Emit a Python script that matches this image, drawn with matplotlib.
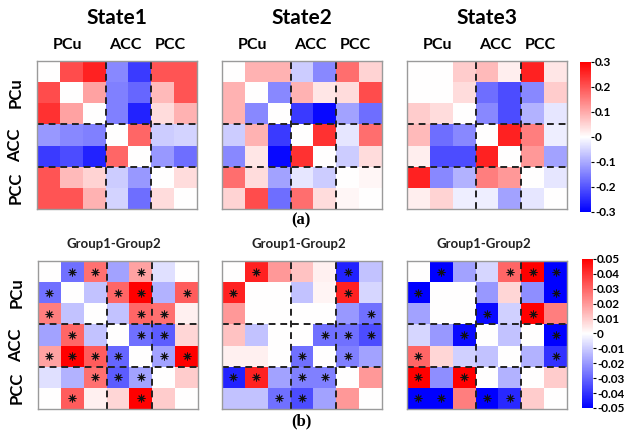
import numpy as np
import matplotlib
matplotlib.use("Agg")
import matplotlib.pyplot as plt

regions = ["PCu", "ACC", "PCC"]
region_sizes = [3, 2, 2]
state_titles = ["State1", "State2", "State3"]
diff_title = "Group1-Group2"

# top row: state connectivity (range -0.3..0.3)
state1 = np.array([
    [0.00, 0.21, 0.26, -0.14, -0.23, 0.20, 0.20],
    [0.21, 0.00, 0.11, -0.15, -0.18, 0.08, 0.20],
    [0.24, 0.11, 0.00, -0.15, -0.26, 0.04, 0.09],
    [-0.12, -0.14, -0.15, 0.00, 0.18, -0.06, -0.05],
    [-0.23, -0.21, -0.26, 0.18, 0.00, -0.12, -0.17],
    [0.20, 0.08, 0.05, -0.06, -0.12, 0.00, 0.04],
    [0.20, 0.20, 0.09, -0.05, -0.17, 0.04, 0.00],
])
state2 = np.array([
    [0.00, 0.09, 0.09, -0.06, -0.14, 0.17, 0.05],
    [0.09, 0.00, -0.14, 0.09, 0.03, 0.04, 0.21],
    [0.09, -0.14, 0.00, -0.23, -0.29, -0.11, -0.17],
    [-0.06, 0.09, -0.23, 0.00, 0.24, -0.03, 0.17],
    [-0.14, 0.03, -0.29, 0.24, 0.00, -0.06, 0.04],
    [0.17, 0.04, -0.11, -0.03, -0.06, 0.00, 0.01],
    [0.05, 0.21, -0.17, 0.17, 0.04, 0.01, 0.00],
])
state3 = np.array([
    [0.00, 0.00, 0.06, 0.08, 0.02, 0.26, 0.03],
    [0.00, 0.00, 0.04, -0.17, -0.21, -0.14, 0.06],
    [0.06, 0.04, 0.00, -0.14, -0.21, -0.09, -0.03],
    [0.08, -0.17, -0.14, 0.00, 0.26, 0.15, -0.02],
    [0.02, -0.21, -0.21, 0.26, 0.00, 0.12, -0.11],
    [0.26, -0.14, -0.09, 0.15, 0.12, 0.00, -0.03],
    [0.02, 0.05, -0.02, -0.02, -0.11, -0.03, 0.00],
])

# bottom row: group differences (range -0.05..0.05)
diff1 = np.array([
    [0.000, -0.028, 0.028, -0.018, 0.018, -0.006, 0.000],
    [-0.028, 0.000, -0.012, 0.030, 0.050, -0.015, 0.032],
    [0.025, -0.012, 0.000, -0.012, 0.030, 0.028, 0.003],
    [-0.018, 0.030, -0.012, 0.000, -0.028, -0.032, 0.008],
    [0.018, 0.050, 0.032, -0.030, 0.000, -0.018, 0.050],
    [-0.006, -0.015, 0.028, -0.032, -0.018, 0.000, 0.010],
    [0.000, 0.032, 0.003, 0.008, 0.050, 0.010, 0.000],
])
diff2 = np.array([
    [0.000, 0.043, 0.020, 0.012, 0.003, -0.043, -0.012],
    [0.043, 0.000, 0.000, -0.012, 0.002, 0.043, -0.008],
    [0.020, 0.000, 0.000, 0.000, 0.000, -0.020, -0.028],
    [0.012, -0.012, 0.000, 0.000, -0.028, -0.028, -0.035],
    [0.003, 0.003, 0.000, -0.028, 0.000, -0.025, -0.018],
    [-0.043, 0.043, -0.018, -0.025, -0.025, 0.000, 0.020],
    [-0.012, -0.012, -0.028, -0.035, -0.018, 0.020, 0.000],
])
diff3 = np.array([
    [0.000, -0.050, -0.018, -0.008, 0.030, 0.050, -0.050],
    [-0.050, 0.000, 0.000, -0.020, 0.008, -0.022, -0.050],
    [-0.018, 0.000, 0.000, -0.048, -0.009, 0.050, 0.025],
    [-0.008, -0.020, -0.048, 0.000, -0.012, 0.000, -0.050],
    [0.030, 0.008, -0.009, -0.012, 0.000, -0.015, -0.040],
    [0.050, -0.022, 0.050, 0.000, -0.015, 0.000, 0.010],
    [-0.050, -0.050, 0.025, -0.050, -0.042, 0.010, 0.000],
])

# significance stars (row, col)
stars1 = [(0, 1), (0, 2), (0, 4), (1, 0), (1, 3), (1, 4), (1, 6), (2, 0), (2, 4), (2, 5),
          (3, 1), (3, 4), (3, 5), (4, 0), (4, 1), (4, 2), (4, 3), (4, 5), (4, 6),
          (5, 2), (5, 3), (5, 4), (6, 1), (6, 4)]
stars2 = [(0, 1), (0, 5), (1, 0), (1, 5), (2, 6), (3, 4), (3, 5), (3, 6), (4, 3), (4, 5),
          (5, 0), (5, 1), (5, 3), (5, 4), (6, 2), (6, 3)]
stars3 = [(0, 1), (0, 4), (0, 5), (0, 6), (1, 0), (1, 6), (2, 3), (2, 5), (3, 2), (3, 6),
          (4, 0), (4, 6), (5, 0), (5, 2), (6, 0), (6, 1), (6, 3), (6, 4)]

top_ticks = [0.3, 0.2, 0.1, 0, -0.1, -0.2, -0.3]
top_ticklabels = ["0.3", "0.2", "0.1", "0", "-0.1", "-0.2", "-0.3"]
bot_ticks = [0.05, 0.04, 0.03, 0.02, 0.01, 0, -0.01, -0.02, -0.03, -0.04, -0.05]
bot_ticklabels = ["0.05", "0.04", "0.03", "0.02", "0.01", "0",
                  "-0.01", "-0.02", "-0.03", "-0.04", "-0.05"]

title_font = "Lato"
fig = plt.figure(figsize=(6.24, 4.30), dpi=100)

bounds = np.cumsum(region_sizes)[:-1]
centers = np.cumsum(region_sizes) - np.array(region_sizes) / 2.0


def draw(rect, mat, vmax, stars=None, ylabels=False, collabels=False):
    ax = fig.add_axes(rect)
    im = ax.imshow(mat, cmap="bwr", vmin=-vmax, vmax=vmax,
                   extent=(0, 7, 7, 0), interpolation="nearest", aspect="auto")
    for b in bounds:
        ax.axvline(b, color="#222222", lw=1.4, ls=(0, (3.5, 2.5)))
        ax.axhline(b, color="#222222", lw=1.4, ls=(0, (3.5, 2.5)))
    if stars:
        r = np.array([s[0] for s in stars]) + 0.5
        c = np.array([s[1] for s in stars]) + 0.5
        ax.scatter(c, r, marker=(8, 2, 0), s=26, color="#111111", lw=0.7, zorder=5)
    ax.set_xlim(0, 7)
    ax.set_ylim(7, 0)
    ax.set_xticks([])
    ax.set_yticks([])
    for sp in ax.spines.values():
        sp.set_color("#9a9a9a")
        sp.set_linewidth(1.0)
    if collabels:
        for name, c in zip(regions, centers):
            ax.text(c - 0.15, -0.45, name, ha="center", va="bottom",
                    fontsize=11.5, fontweight="bold", family=title_font)
    if ylabels:
        for name, c in zip(regions, centers):
            ax.text(-0.6, c, name, ha="right", va="center", rotation=90,
                    fontsize=12, fontweight="bold", family=title_font)
    return im


lefts = [0.0593, 0.3558, 0.6522]
w, h = 0.2564, 0.344
top_mats = [state1, state2, state3]
bot_mats = [diff1, diff2, diff3]
bot_stars = [stars1, stars2, stars3]

for i in range(3):
    im_top = draw([lefts[i], 0.514, w, h], top_mats[i], 0.3,
                  ylabels=(i == 0), collabels=True)
    cx = lefts[i] + w / 2
    fig.text(cx, 0.958, state_titles[i], ha="center", va="center",
             fontsize=15, fontweight="bold", family=title_font)
    im_bot = draw([lefts[i] + (0.0016 if i == 0 else 0), 0.0488, w, h], bot_mats[i], 0.05,
                  stars=bot_stars[i], ylabels=(i == 0))
    fig.text(cx - 0.005, 0.432, diff_title, ha="center", va="center",
             fontsize=9.5, fontweight="bold", family=title_font, color="#222222")

cax1 = fig.add_axes([0.9295, 0.507, 0.0176, 0.349])
cb1 = fig.colorbar(im_top, cax=cax1, ticks=top_ticks)
cb1.ax.set_yticklabels(top_ticklabels)
cax2 = fig.add_axes([0.9327, 0.0512, 0.0176, 0.3465])
cb2 = fig.colorbar(im_bot, cax=cax2, ticks=bot_ticks)
cb2.ax.set_yticklabels(bot_ticklabels)
for cb in (cb1, cb2):
    cb.outline.set_visible(False)
    cb.ax.tick_params(length=2, width=0.8, pad=1, labelsize=8.5)
    for t in cb.ax.get_yticklabels():
        t.set_family(title_font)
        t.set_fontweight("bold")

fig.text(0.483, 0.488, "(a)", ha="center", va="center", fontsize=12,
         fontweight="bold", family="Liberation Serif")
fig.text(0.483, 0.021, "(b)", ha="center", va="center", fontsize=12,
         fontweight="bold", family="Liberation Serif")

fig.savefig("out.png", dpi=100)
